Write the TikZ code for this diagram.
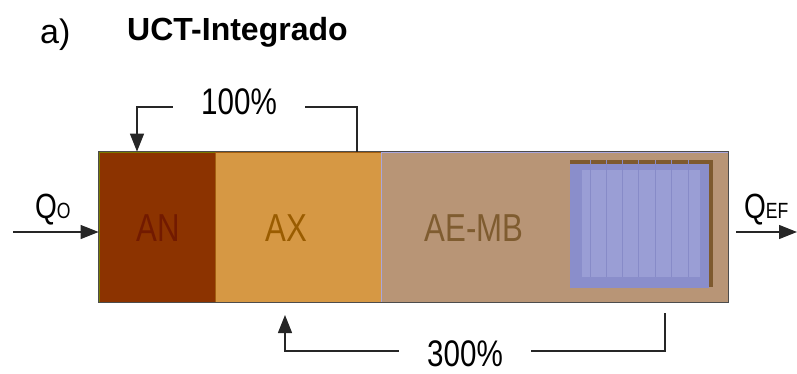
\documentclass[tikz,border=0pt]{standalone}
\usepackage{fontspec}
\setmainfont{Liberation Sans}
\newfontfamily\narrowsans{Liberation Sans}[FakeStretch=0.8]
\usepackage{tikz}
\usetikzlibrary{arrows.meta}
\definecolor{anfill}{HTML}{8C3300}
\definecolor{antext}{HTML}{721A00}
\definecolor{anedge}{HTML}{7A7A00}
\definecolor{axfill}{HTML}{D69844}
\definecolor{axtext}{HTML}{9A5C00}
\definecolor{axedge}{HTML}{A35E10}
\definecolor{aefill}{HTML}{B89576}
\definecolor{aetext}{HTML}{7F5C30}
\definecolor{aeedge}{HTML}{A9A6DC}
\definecolor{mbshadow}{HTML}{7E5A2E}
\definecolor{mbouter}{HTML}{8A8ECB}
\definecolor{mbinner}{HTML}{9A9ED5}
\definecolor{mbline}{HTML}{878BC8}

\begin{document}
\begin{tikzpicture}[x=1pt,y=-1pt,
    tank/.style={minimum height=150pt,inner sep=0pt,line width=0.8pt},
    tanklabel/.style={font=\narrowsans\fontsize{39}{40}\selectfont},
    flow/.style={line width=1.2pt,draw=black!85,-{Triangle[length=18pt,width=14pt]}},
    pct/.style={font=\narrowsans\fontsize{37}{40}\selectfont,fill=white,inner xsep=28pt,inner ysep=0pt},
    qlabel/.style={font=\narrowsans\fontsize{35}{36}\selectfont,anchor=base west,inner sep=0pt}]
    \useasboundingbox (0,0) rectangle (797,373);

    % heading
    \node[anchor=base west,inner sep=0pt,font=\fontsize{34}{36}\selectfont] (part) at (40,43) {a)};
    \node[anchor=base west,inner sep=0pt,font=\bfseries\fontsize{32}{34}\selectfont] (title) at (127,40) {UCT-Integrado};

    % reactor zones
    \node[tank,fill=anfill,draw=anedge,minimum width=116pt] (an) at (157,227) {};
    \node[tank,fill=axfill,draw=axedge,minimum width=166pt] (ax) at (298,227) {};
    \node[tank,fill=aefill,draw=aeedge,minimum width=347pt] (ae) at (554.5,227) {};
    \draw[black!70,line width=0.6pt] (an.north west) rectangle (ae.south east);

    % membrane module
    \fill[mbshadow] (570,160) rectangle (713,287);
    \fill[mbouter] (570,164) rectangle (709,288);
    \fill[mbinner] (582,170) rectangle (700,277);
    \foreach \x in {590,606,622,638,655,671,688}
      \draw[mbline,line width=1pt] (\x,160) -- (\x,277);

    \node[tanklabel,text=antext] (anlab) at (158,228) {AN};
    \node[tanklabel,text=axtext] (axlab) at (286,228) {AX};
    \node[tanklabel,text=aetext] (aelab) at (474,228) {AE-MB};

    % influent and effluent
    \coordinate (qin) at (13,232);
    \draw[flow] (qin) -- (qin -| an.west);
    \node[qlabel] (qo) at (35,218) {Q{\fontsize{22}{22}\selectfont O}};
    \coordinate (qout) at (736,232);
    \coordinate (qend) at (797,232);
    \draw[flow] (qout) -- (qend);
    \node[qlabel] (qef) at (744,218) {Q{\fontsize{22}{22}\selectfont EF}};

    % recycle AX -> AN
    \coordinate (rtop) at (357,107);
    \coordinate (ltop) at (137,107);
    \draw[flow] (rtop |- ax.north) -- (rtop) -- (ltop) -- (ltop |- an.north);
    \node[pct] (p100) at (239,102) {100\%};

    % recycle AE-MB -> AX
    \coordinate (rbot) at (665,313);
    \coordinate (rb) at (665,351);
    \coordinate (lb) at (285,351);
    \coordinate (lbot) at (285,315);
    \draw[flow] (rbot) -- (rb) -- (lb) -- (lbot);
    \node[pct] (p300) at (465,354) {300\%};
\end{tikzpicture}
\end{document}
